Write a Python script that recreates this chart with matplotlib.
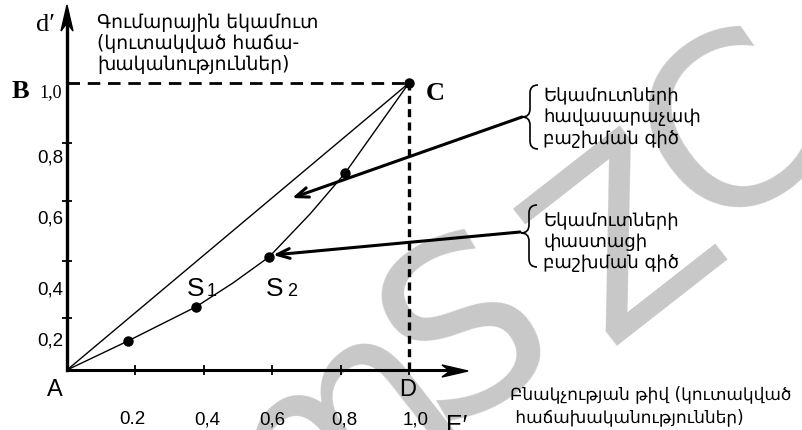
import matplotlib
matplotlib.use('Agg')
import matplotlib.pyplot as plt
from matplotlib.path import Path
from matplotlib.patches import PathPatch, FancyArrowPatch, Polygon

# Lorenz diagram, schematic

W, H = 802, 431
X0, XS = 67, 342     # pixel of x=0 and pixels per unit
Y0, YS = 371, 287    # pixel of y=0 and pixels per unit

lor_x = [0.0, 0.178, 0.377, 0.485, 0.591, 0.711, 0.813, 1.0]
lor_y = [0.0, 0.101, 0.220, 0.303, 0.394, 0.544, 0.686, 1.0]
dot_x = [0.178, 0.377, 0.591, 0.813, 1.0]
dot_y = [0.101, 0.220, 0.394, 0.686, 1.0]
# equal distribution line
eq_x = [0.0, 1.0]
eq_y = [0.0, 1.0]

xticks = [0.2, 0.4, 0.6, 0.8, 1.0]
yticks = [0.18, 0.38, 0.59, 0.79]
xlabels = ['0.2', '0,4', '0,6', '0,8', '1,0']
xlabel_pos = [0.19, 0.41, 0.60, 0.81, 1.02]
ylabels = ['0,2', '0,4', '0,6', '0,8']
ylabel_pos = [0.105, 0.282, 0.530, 0.742]

y_title = 'Գումարային եկամուտ\n(կուտակված հաճա-\nխականություններ)'
x_title = 'Բնակչության թիվ (կուտակված\n հաճախականություններ)'
note_eq = ['Եկամուտների', 'հավասարաչափ', 'բաշխման գիծ']
note_act = ['Եկամուտների', 'փաստացի', 'բաշխման գիծ']

SANS = ['Liberation Sans', 'DejaVu Sans']
SERIF = ['Liberation Serif', 'DejaVu Serif']
ARM = ['DejaVu Sans']


def pt(xp, yp):
    # pixel position (from top left) -> data
    return (xp - X0) / XS, (Y0 - yp) / YS


fig = plt.figure(figsize=(W / 100, H / 100), dpi=100)
ax = fig.add_axes([0, 0, 1, 1])
ax.set_xlim(pt(0, 0)[0], pt(W, 0)[0])
ax.set_ylim(pt(0, H)[1], pt(0, 0)[1])

# axes through the origin
for s in ['top', 'right']:
    ax.spines[s].set_visible(False)
ax.spines['left'].set_position(('data', 0))
ax.spines['bottom'].set_position(('data', 0))
ax.spines['left'].set_bounds(0, pt(0, 24)[1])
ax.spines['bottom'].set_bounds(0, pt(450, 0)[0])
ax.spines['left'].set_linewidth(2.4)
ax.spines['bottom'].set_linewidth(2.2)
ax.set_xticks(xticks)
ax.set_yticks(yticks)
ax.tick_params(direction='inout', length=7, width=1.3, labelbottom=False, labelleft=False)

# arrow heads on the axes
def head(tip, back, half, notch):
    (tx, ty), (bx, by) = tip, back
    if tx == bx:
        pts = [pt(tx, ty), pt(tx - half, by), pt(tx, by - notch), pt(tx + half, by)]
    else:
        pts = [pt(tx, ty), pt(bx, ty - half), pt(bx + notch, ty), pt(bx, ty + half)]
    ax.add_patch(Polygon(pts, closed=True, color='black', zorder=5))

head((67, 6), (67, 32), 6, 8)
head((468, 372), (442, 372), 6, 8)

# watermark
for ch, (xp, yp), rot in [('m', (335, 425), 38), ('S', (468, 335), 30),
                          ('Z', (630, 245), 38), ('C', (735, 135), 35)]:
    ax.text(*pt(xp, yp), ch, fontsize=170, family='DejaVu Sans', color='#c8c8c8',
            rotation=rot, ha='center', va='center', zorder=0)

# dashed guides B-C and C-D
ax.plot([0, 1], [1, 1], color='black', lw=2.0, dashes=(4.5, 2.8), zorder=2)
ax.plot([1, 1], [0, 1], color='black', lw=2.4, dashes=(2.4, 1.6), zorder=2)

# lines
ax.plot(eq_x, eq_y, color='black', lw=1.0, zorder=3)
ax.plot(lor_x, lor_y, color='black', lw=1.0, zorder=3)
ax.plot(dot_x, dot_y, 'o', color='black', markersize=6.5, zorder=4)

# pointer arrows
for tail, tip in [((522, 118), (292, 199)), ((520, 233), (273, 256))]:
    ax.add_patch(FancyArrowPatch(pt(*tail), pt(*tip), arrowstyle='->,head_length=9,head_width=3.5',
                                 lw=2.2, color='black', zorder=4, shrinkA=0, shrinkB=0))

# braces
def brace(xtip, ytop, ybot, ymid):
    xr, xm = xtip + 16, xtip + 8
    verts = [(xr, ytop), (xm, ytop), (xm, ytop + 8),
             (xm, ymid - 8), (xm, ymid), (xtip, ymid),
             (xm, ymid), (xm, ymid + 8),
             (xm, ybot - 8), (xm, ybot), (xr, ybot)]
    codes = [Path.MOVETO, Path.CURVE3, Path.CURVE3,
             Path.LINETO, Path.CURVE3, Path.CURVE3,
             Path.CURVE3, Path.CURVE3,
             Path.LINETO, Path.CURVE3, Path.CURVE3]
    ax.add_patch(PathPatch(Path([pt(*v) for v in verts], codes), fill=False, lw=1.2,
                           color='black', zorder=4))

brace(522, 86, 150, 118)
brace(521, 206, 268, 234)

for i, line in enumerate(note_eq):
    ax.text(*pt(543, 96 + i * 21.5), line, fontsize=13, family=ARM, va='center', ha='left')
for i, line in enumerate(note_act):
    ax.text(*pt(543, 221 + i * 21), line, fontsize=13, family=ARM, va='center', ha='left')

ax.text(*pt(97, 13), y_title, fontsize=13.5, family=ARM, va='top', ha='left', linespacing=1.15)
ax.text(*pt(510, 385), x_title, fontsize=12.2, family=ARM, va='top', ha='left', linespacing=1.35)

# tick labels
for lab, xv in zip(xlabels, xlabel_pos):
    ax.text(xv, pt(0, 420)[1], lab, fontsize=13.5, family=SANS, ha='center', va='center')
for lab, yv in zip(ylabels, ylabel_pos):
    ax.text(pt(63, 0)[0], yv, lab, fontsize=13.5, family=SANS, ha='right', va='center')
ax.text(*pt(62, 93), '1,0', fontsize=13, family=SERIF, ha='right', va='center')

# point names
ax.text(*pt(45, 25), 'd′', fontsize=19, family=SERIF, ha='center', va='center')
ax.text(*pt(20, 92), 'B', fontsize=19, family=SERIF, weight='bold', ha='center', va='center')
ax.text(*pt(435, 93), 'C', fontsize=19, family=SERIF, weight='bold', ha='center', va='center')
ax.text(*pt(55, 390), 'A', fontsize=17, family=SANS, ha='center', va='center')
ax.text(*pt(408, 390), 'D', fontsize=17, family=SANS, ha='center', va='center')
ax.text(*pt(446, 414), 'E′', fontsize=18, family=SANS, ha='left', va='top')
ax.text(*pt(187, 296), 'S', fontsize=19, family=SANS, ha='left', va='baseline')
ax.text(*pt(207, 296), '1', fontsize=13, family=SANS, ha='left', va='baseline')
ax.text(*pt(266, 296), 'S', fontsize=19, family=SANS, ha='left', va='baseline')
ax.text(*pt(287, 296), '2', fontsize=13, family=SANS, ha='left', va='baseline')

fig.savefig('out.png', dpi=100)
